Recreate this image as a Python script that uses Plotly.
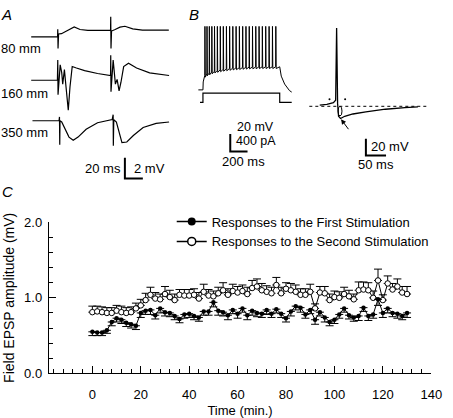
import plotly.graph_objects as go

W, H = 453, 418
FONT = "Liberation Sans, Arial, sans-serif"

# ---------------- Panel C data (time course) ----------------
time_min = list(range(0, 131, 2))
first_amp = [0.55, 0.54, 0.54, 0.57, 0.68, 0.73, 0.71, 0.67, 0.65, 0.63,
             0.80, 0.83, 0.84, 0.77, 0.86, 0.81, 0.80, 0.76, 0.72, 0.78,
             0.79, 0.76, 0.74, 0.82, 0.82, 0.94, 0.83, 0.81, 0.77, 0.84,
             0.79, 0.86, 0.77, 0.83, 0.80, 0.79, 0.84, 0.79, 0.85, 0.79,
             0.73, 0.82, 0.89, 0.87, 0.78, 0.84, 0.71, 0.81, 0.74, 0.68,
             0.71, 0.78, 0.86, 0.77, 0.74, 0.76, 0.87, 0.76, 0.78, 0.98,
             0.80, 0.86, 0.80, 0.79, 0.76, 0.80]
first_sem = [0.05, 0.04, 0.04, 0.04, 0.05, 0.05, 0.05, 0.05, 0.05, 0.05,
             0.06, 0.05, 0.06, 0.05, 0.06, 0.05, 0.05, 0.05, 0.05, 0.05,
             0.05, 0.05, 0.05, 0.05, 0.05, 0.06, 0.06, 0.05, 0.06, 0.05,
             0.06, 0.05, 0.06, 0.06, 0.05, 0.05, 0.06, 0.05, 0.05, 0.05,
             0.05, 0.06, 0.05, 0.06, 0.05, 0.05, 0.06, 0.05, 0.06, 0.05,
             0.05, 0.05, 0.05, 0.05, 0.05, 0.06, 0.05, 0.06, 0.05, 0.08,
             0.06, 0.06, 0.05, 0.06, 0.05, 0.06]
second_amp = [0.81, 0.82, 0.81, 0.80, 0.80, 0.83, 0.81, 0.80, 0.81, 0.86,
              0.90, 0.97, 1.04, 0.99, 0.98, 1.05, 1.01, 0.97, 1.04, 1.03,
              1.03, 1.04, 0.99, 1.08, 1.03, 1.02, 1.06, 1.10, 1.04, 1.09,
              1.07, 1.09, 1.05, 1.13, 1.15, 1.10, 1.08, 1.06, 1.17, 1.06,
              1.12, 1.10, 1.08, 1.04, 1.04, 1.08, 0.86, 1.07, 1.06, 0.97,
              1.01, 1.00, 1.05, 1.02, 0.98, 1.10, 1.11, 1.10, 1.00, 1.23,
              0.97, 1.19, 1.11, 1.15, 1.07, 1.05]
second_sem = [0.08, 0.07, 0.07, 0.07, 0.07, 0.07, 0.08, 0.07, 0.07, 0.07,
              0.08, 0.09, 0.10, 0.08, 0.07, 0.10, 0.09, 0.08, 0.07, 0.08,
              0.08, 0.08, 0.08, 0.10, 0.08, 0.07, 0.08, 0.10, 0.08, 0.09,
              0.08, 0.08, 0.09, 0.10, 0.10, 0.09, 0.08, 0.08, 0.10, 0.08,
              0.08, 0.09, 0.09, 0.08, 0.08, 0.10, 0.06, 0.08, 0.09, 0.08,
              0.08, 0.08, 0.09, 0.08, 0.07, 0.11, 0.10, 0.10, 0.09, 0.15,
              0.07, 0.10, 0.08, 0.10, 0.08, 0.10]
series_names = ["Responses to the First Stimulation",
                "Responses to the Second Stimulation"]
x_ticks = [0, 20, 40, 60, 80, 100, 120, 140]
y_ticks = [0.0, 1.0, 2.0]

# ---------------- Panel A: field potential traces (ms, mV) ----------------
a80_ms = [-29.7, -0.9, -0.3, -0.1, 0.2, 0.8, 4.0, 7.3, 11.6, 18.2, 24.7, 33.4, 44.2, 57.3,
          58.7, 58.9, 59.2, 59.8, 63.8, 69.2, 74.7, 83.4, 94.2, 109.5, 123.6]
a80_mv = [0, 0, 0, 0.74, -1.11, 0.28, 0.31, 0.46, 0.71, 0.95, 0.71, 0.62, 0.62, 0.62,
          0.62, 1.94, -1.11, 0.56, 0.71, 0.93, 1.02, 0.77, 0.65, 0.62, 0.65]
a160_ms = [-29.7, -0.5, -0.1, 0.2, 2.6, 4.3, 5.4, 7.3, 9.1, 11.6, 13.5, 16.0, 20.7, 29.8,
           44.2, 57.0, 58.7, 58.9, 59.2, 61.6, 64.1, 66.0, 68.2, 70.3, 73.3, 78.7, 87.7,
           102.2, 123.9]
a160_mv = [0, 0, 1.94, -1.39, 1.48, 0.74, -0.37, 1.02, -0.65, -2.87, -0.65, 1.32, 1.18, 0.93,
           0.65, 0.46, 0.46, 2.41, -1.11, 1.94, -0.37, 0.09, -1.02, -0.19, 1.32, 1.64, 1.18,
           0.71, 0.46]
a350_ms = [-28.3, 1.3, 1.8, 2.1, 2.4, 4.3, 8.0, 12.4, 17.1, 22.5, 31.5, 44.2, 60.5, 61.6,
           61.8, 62.3, 65.2, 67.8, 71.4, 76.8, 84.1, 95.0, 109.5, 123.9]
a350_mv = [0, 0, 0.37, -2.31, 0, -0.12, -0.81, -1.57, -1.88, -1.57, -0.81, -0.19, 0.12, 0.58,
           -2.41, 0.09, -0.12, -0.95, -2.10, -2.04, -1.42, -0.65, -0.25, -0.12]
a_labels = ["80 mm", "160 mm", "350 mm"]
a_scale_ms, a_scale_mv = 20, 2

# ---------------- Panel B left: firing pattern ----------------
b_pre_ms = [-53, 0, 3, 10]
b_pre_mv = [-65, -65, -56, -53]
spike_ms = [23, 47, 74, 103, 134, 167, 201, 236, 272, 309, 346, 384, 422, 460, 498, 536,
            574, 612, 650, 688, 727, 766, 805, 844]
spike_trough_mv = [-48.6, -47.0, -45.9, -44.8, -43.9, -43.1, -42.4, -41.8, -41.3, -40.8,
                   -40.4, -40.1, -39.9, -39.6, -39.4, -39.2, -39.1, -39.0, -38.9, -38.8,
                   -38.8, -38.8, -38.8, -38.8]
spike_peak_mv = 7
b_post_ms = [889, 907, 946, 1002, 1028]
b_post_mv = [-38.8, -49.4, -58.4, -65.8, -67.5]
step_ms = [-34, 0, 0, 889, 889, 1028]
step_pa = [0, 0, 210, 210, 0, 0]
b1_scale = (200, 20)  # ms, mV (also 400 pA)

# ---------------- Panel B right: single spike with AHP ----------------
ap_ms = [-41.9, -24.2, -8.0, -2.4, 0, 2.4, 4.8, 9.7, 20.1, 40.4, 72.6, 121.1, 169.5, 201.7]
ap_mv = [1.5, 2.3, 4.3, 7.3, 93.8, 3.5, -11.9, -14.6, -11.9, -9.2, -6.6, -3.5, -1.5, -0.8]
ap_dot_ms = [-17.7, 21.1]
ap_dot_mv = [8.4, 8.4]
b2_scale = (50, 20)

# ---------------- layout helpers (pixel placement) ----------------
def xdom(p0, p1):
    return [p0 / W, p1 / W]

def ydom(p0, p1):
    return [1 - p1 / H, 1 - p0 / H]

def xrng(p0, p1, origin, scale):
    return [(p0 - origin) / scale, (p1 - origin) / scale]

def yrng(p0, p1, origin, scale):
    return [(origin - p1) / scale, (origin - p0) / scale]

fig = go.Figure()

# ---- Panel C traces
fig.add_trace(go.Scatter(
    x=time_min, y=second_amp, mode="lines+markers", xaxis="x", yaxis="y",
    line=dict(color="black", width=1),
    marker=dict(symbol="circle", size=5.5, color="white", line=dict(color="black", width=1)),
    error_y=dict(type="data", symmetric=False, array=second_sem,
                 arrayminus=[0] * len(second_sem), color="black", thickness=1, width=4),
    showlegend=False))
fig.add_trace(go.Scatter(
    x=time_min, y=first_amp, mode="lines+markers", xaxis="x", yaxis="y",
    line=dict(color="black", width=1),
    marker=dict(symbol="circle", size=4.5, color="black"),
    error_y=dict(type="data", symmetric=False, array=[0] * len(first_sem),
                 arrayminus=first_sem, color="black", thickness=1, width=4),
    showlegend=False))
# legend entries
fig.add_trace(go.Scatter(x=[None], y=[None], mode="lines+markers", name=series_names[0],
                         line=dict(color="black", width=1.5),
                         marker=dict(size=8, color="black"), xaxis="x", yaxis="y"))
fig.add_trace(go.Scatter(x=[None], y=[None], mode="lines+markers", name=series_names[1],
                         line=dict(color="black", width=1.5),
                         marker=dict(size=8, color="white", line=dict(color="black", width=1.5)),
                         xaxis="x", yaxis="y"))

# ---- Panel A traces
a_offsets = [0, (31 - 76) / 10.8, (31 - 118) / 10.8]
for ms, mv, off in zip([a80_ms, a160_ms, a350_ms], [a80_mv, a160_mv, a350_mv], a_offsets):
    fig.add_trace(go.Scatter(x=ms, y=[v + off for v in mv], mode="lines", xaxis="x2", yaxis="y2",
                             line=dict(color="black", width=1.2), showlegend=False,
                             hoverinfo="skip"))
a_bar_t0, a_bar_v0 = (128 - 59.3) / 0.92, (31 - 178) / 10.8
fig.add_trace(go.Scatter(x=[a_bar_t0, a_bar_t0, a_bar_t0 + a_scale_ms],
                         y=[a_bar_v0 + a_scale_mv, a_bar_v0, a_bar_v0], mode="lines",
                         xaxis="x2", yaxis="y2", line=dict(color="black", width=2),
                         showlegend=False, hoverinfo="skip"))

# ---- Panel B left traces
bx, by = list(b_pre_ms), list(b_pre_mv)
for ts, tr in zip(spike_ms, spike_trough_mv):
    bx += [ts - 2, ts, ts + 4]
    by += [tr, spike_peak_mv, tr - 2]
bx += b_post_ms
by += b_post_mv
fig.add_trace(go.Scatter(x=bx, y=by, mode="lines", xaxis="x3", yaxis="y3",
                         line=dict(color="black", width=1), showlegend=False, hoverinfo="skip"))
fig.add_trace(go.Scatter(x=step_ms, y=step_pa, mode="lines", xaxis="x3", yaxis="y4",
                         line=dict(color="black", width=1.2), showlegend=False, hoverinfo="skip"))
b1_t0, b1_v0 = (236 - 208) / 0.0885, (26.5 - 150) / 0.915
fig.add_trace(go.Scatter(x=[b1_t0, b1_t0, b1_t0 + b1_scale[0]],
                         y=[b1_v0 + b1_scale[1], b1_v0, b1_v0], mode="lines",
                         xaxis="x3", yaxis="y3", line=dict(color="black", width=2),
                         showlegend=False, hoverinfo="skip"))

# ---- Panel B right traces
fig.add_trace(go.Scatter(x=[(317 - 345) / 0.413, (437 - 345) / 0.413], y=[0, 0], mode="lines",
                         xaxis="x5", yaxis="y5", line=dict(color="black", width=1, dash="dot"),
                         showlegend=False, hoverinfo="skip"))
fig.add_trace(go.Scatter(x=ap_ms, y=ap_mv, mode="lines", xaxis="x5", yaxis="y5",
                         line=dict(color="black", width=1.3), showlegend=False, hoverinfo="skip"))
fig.add_trace(go.Scatter(x=ap_dot_ms, y=ap_dot_mv, mode="markers", xaxis="x5", yaxis="y5",
                         marker=dict(size=2, color="black"), showlegend=False, hoverinfo="skip"))
b2_t0, b2_v0 = (375 - 345) / 0.413, (103 - 154) / 0.867
fig.add_trace(go.Scatter(x=[b2_t0, b2_t0, b2_t0 + b2_scale[0]],
                         y=[b2_v0 + b2_scale[1], b2_v0, b2_v0], mode="lines",
                         xaxis="x5", yaxis="y5", line=dict(color="black", width=2),
                         showlegend=False, hoverinfo="skip"))

hidden = dict(visible=False, fixedrange=True)
axis_font = dict(family=FONT, size=13, color="black")

fig.update_layout(
    width=W, height=H, margin=dict(l=0, r=0, t=0, b=0),
    paper_bgcolor="white", plot_bgcolor="white",
    font=dict(family=FONT, size=13, color="black"),
    xaxis=dict(domain=xdom(50, 442), range=[-18, 140], tickvals=x_ticks,
               showline=True, linecolor="black", linewidth=1, ticks="inside", ticklen=7,
               tickcolor="black", showgrid=False, zeroline=False, tickfont=axis_font,
               ticklabelstandoff=9, ticklabeloverflow="allow",
               minor=dict(dtick=4, tick0=0, ticks="inside", ticklen=4, tickcolor="black"),
               title=dict(text="Time (min.)", font=dict(size=13), standoff=5),
               anchor="y", fixedrange=True),
    yaxis=dict(domain=ydom(223.3, 380), range=[0, 2], tickvals=y_ticks, tickformat=".1f",
               showline=True, linecolor="black", linewidth=1, ticks="inside", ticklen=7,
               tickcolor="black", showgrid=False, zeroline=False, tickfont=axis_font,
               ticklabelstandoff=3,
               minor=dict(dtick=0.2, ticks="inside", ticklen=4, tickcolor="black"),
               title=dict(text="Field EPSP amplitude (mV)", font=dict(size=14), standoff=6),
               anchor="x", fixedrange=True),
    xaxis2=dict(domain=xdom(0, 180), range=xrng(0, 180, 59.3, 0.92), anchor="y2", **hidden),
    yaxis2=dict(domain=ydom(0, 185), range=yrng(0, 185, 31, 10.8), anchor="x2", **hidden),
    xaxis3=dict(domain=xdom(195, 310), range=xrng(195, 310, 208, 0.0885), anchor="y3", **hidden),
    yaxis3=dict(domain=ydom(0, 185), range=yrng(0, 185, 26.5, 0.915), anchor="x3", **hidden),
    yaxis4=dict(domain=ydom(0, 185), range=yrng(0, 185, 99, 0.04575), anchor="x3",
                overlaying="y3", **hidden),
    xaxis5=dict(domain=xdom(310, 453), range=xrng(310, 453, 345, 0.413), anchor="y5", **hidden),
    yaxis5=dict(domain=ydom(0, 185), range=yrng(0, 185, 103, 0.867), anchor="x5", **hidden),
    legend=dict(x=176 / W, y=1 - 207 / H, xanchor="left", yanchor="top",
                bgcolor="rgba(0,0,0,0)", font=dict(size=13), tracegroupgap=0),
    showlegend=True,
)

def label(text, px, py, anchor="left", size=13, italic=False):
    fig.add_annotation(text=f"<i>{text}</i>" if italic else text,
                       x=px / W, y=1 - py / H, xref="paper", yref="paper",
                       xanchor=anchor, yanchor="middle", showarrow=False, borderpad=0,
                       font=dict(family=FONT, size=size, color="black"))

label("A", 0, 8, size=15, italic=True)
label("B", 193, 8, size=15, italic=True)
label("C", 1, 191, size=15, italic=True)
for txt, py in zip(a_labels, [43, 90, 130]):
    label(txt, 0, py)
label("20 ms", 125, 168, anchor="right")
label("2 mV", 136, 168)
label("20 mV", 242, 124.5, size=12.5)
label("400 pA", 241, 139, size=12.5)
label("200 ms", 226, 160)
label("20 mV", 379, 145)
label("50 ms", 366, 163)

# arrow pointing to AHP trough
fig.add_annotation(x=11, y=-15.5, ax=(358.3 - 345) / 0.413, ay=(103 - 128.3) / 0.867,
                   xref="x5", yref="y5", axref="x5", ayref="y5", text="", showarrow=True,
                   arrowhead=2, arrowsize=1, arrowwidth=1, arrowcolor="black")
fig.add_shape(type="circle", xref="x5", yref="y5", x0=3.6, x1=13.3, y0=-11.5, y1=0,
              line=dict(color="black", width=1))

fig.write_html("out.html", config={"displayModeBar": False},
               post_script="document.body.style.margin='0';document.body.style.padding='0';")
